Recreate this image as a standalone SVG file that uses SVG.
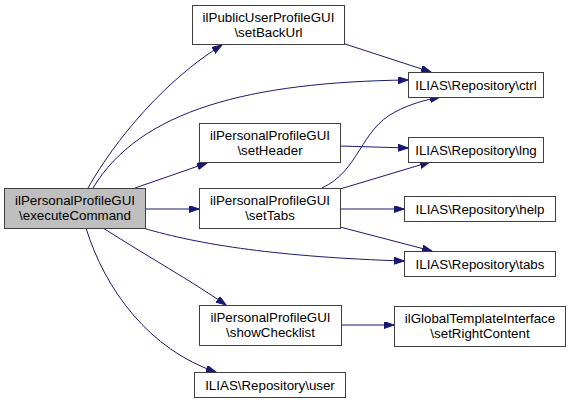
<svg xmlns="http://www.w3.org/2000/svg" width="571" height="403" viewBox="0 0 571 403">
<style>
.n rect{fill:#ffffff;stroke:#404040;stroke-width:1}
.n.main rect{fill:#bfbfbf}
.n text{font-family:"Liberation Sans",Arial,sans-serif;font-size:13.33px;fill:#000;text-anchor:middle}
.e path{fill:none;stroke:#191970;stroke-width:1;marker-end:url(#a)}
</style>
<defs>
<marker id="a" markerUnits="userSpaceOnUse" markerWidth="11" markerHeight="8" refX="10" refY="3.5" orient="auto">
<path d="M0,0 L10,3.5 L0,7 z" fill="#191970" stroke="#191970"/>
</marker>
</defs>
<rect width="571" height="403" fill="#ffffff"/>
<g id="edges" class="e">
<path d="M88,188 C115,140 165,80 222,45"/>
<path d="M93,188 C140,110 250,82 408,80"/>
<path d="M135,188 L207,163"/>
<path d="M146,209 L199,209"/>
<path d="M143,228 C200,245 280,257 404,261"/>
<path d="M103,228 C150,258 190,280 226,305"/>
<path d="M86,228 C105,290 150,350 216,372"/>
<path d="M345,44 L431,72"/>
<path d="M340,146 L408,148"/>
<path d="M322,188 C360,170 360,130 395,112 C410,104 425,100 440,97"/>
<path d="M340,189 L430,162"/>
<path d="M340,209 L404,209"/>
<path d="M340,227 L432,251"/>
<path d="M341,325 L394,325"/>
</g>
<g id="n_main" class="n main"><rect x="4.5" y="188.5" width="141" height="40"/><text x="75" y="205">ilPersonalProfileGUI</text><text x="75" y="220">\executeCommand</text></g>
<g id="n_setBackUrl" class="n"><rect x="192.5" y="5.5" width="152" height="39"/><text x="268.5" y="22">ilPublicUserProfileGUI</text><text x="268.5" y="37">\setBackUrl</text></g>
<g id="n_setHeader" class="n"><rect x="199.5" y="123.5" width="141" height="39"/><text x="270" y="140">ilPersonalProfileGUI</text><text x="270" y="155">\setHeader</text></g>
<g id="n_setTabs" class="n"><rect x="199.5" y="188.5" width="141" height="40"/><text x="270" y="205">ilPersonalProfileGUI</text><text x="270" y="220">\setTabs</text></g>
<g id="n_showChecklist" class="n"><rect x="199.5" y="305.5" width="142" height="40"/><text x="270.5" y="322">ilPersonalProfileGUI</text><text x="270.5" y="337">\showChecklist</text></g>
<g id="n_user" class="n"><rect x="194.5" y="372.5" width="151" height="25"/><text x="270" y="390">ILIAS\Repository\user</text></g>
<g id="n_ctrl" class="n"><rect x="408.5" y="72.5" width="135" height="25"/><text x="476" y="90">ILIAS\Repository\ctrl</text></g>
<g id="n_lng" class="n"><rect x="408.5" y="137.5" width="135" height="25"/><text x="476" y="155">ILIAS\Repository\lng</text></g>
<g id="n_help" class="n"><rect x="404.5" y="196.5" width="151" height="25"/><text x="480" y="214">ILIAS\Repository\help</text></g>
<g id="n_tabs" class="n"><rect x="404.5" y="251.5" width="151" height="25"/><text x="480" y="269">ILIAS\Repository\tabs</text></g>
<g id="n_setRightContent" class="n"><rect x="394.5" y="306.5" width="171" height="40"/><text x="480" y="323">ilGlobalTemplateInterface</text><text x="480" y="338">\setRightContent</text></g>
</svg>
